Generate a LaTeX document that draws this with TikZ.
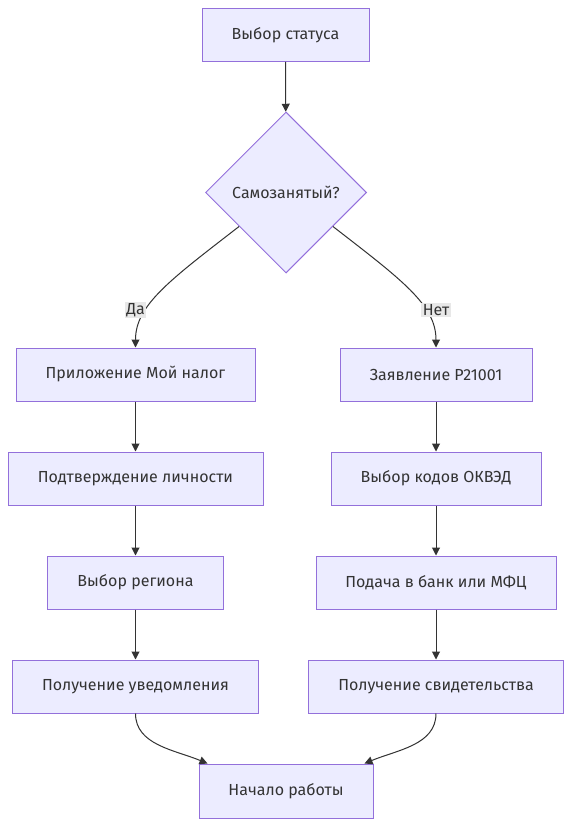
\documentclass[tikz,border=0pt]{standalone}
\usepackage{fontspec}
\setmainfont{Fira Sans}
\usetikzlibrary{shapes.geometric,arrows.meta,calc}
\definecolor{nodefill}{HTML}{ECECFF}
\definecolor{nodeline}{HTML}{9370DB}
\definecolor{edgecol}{HTML}{333333}
\definecolor{lblbg}{HTML}{E8E8E8}
\begin{document}
\begin{tikzpicture}[x=1pt,y=-1pt,
  box/.style={draw=nodeline, fill=nodefill, line width=1pt, minimum height=53pt, inner sep=0pt, text=edgecol, font=\fontsize{16}{19}\selectfont},
  dia/.style={diamond, aspect=1, draw=nodeline, fill=nodefill, line width=1pt, minimum width=161pt, minimum height=161pt, inner sep=0pt, text=edgecol, font=\fontsize{16}{19}\selectfont},
  arr/.style={draw=edgecol, line width=1pt, -{Triangle[length=8pt,width=8pt]}},
  lbl/.style={fill=lblbg, inner sep=1.5pt, text=edgecol, font=\fontsize{16}{19}\selectfont}]
\useasboundingbox (0,0) rectangle (572,826);
\fill[white] (0,0) rectangle (572,826);
\node[box, minimum width=167pt] (s) at (285.5,35) {Выбор статуса};
\node[dia] (d) at (286,192.5) {Самозанятый?};
\node[box, minimum width=239pt] (a1) at (135.5,374.5) {Приложение Мой налог};
\node[box, minimum width=255pt] (a2) at (135.5,478.5) {Подтверждение личности};
\node[box, minimum width=176pt] (a3) at (135.5,582.5) {Выбор региона};
\node[box, minimum width=246pt] (a4) at (135.5,686.5) {Получение уведомления};
\node[box, minimum width=192pt] (b1) at (436,374.5) {Заявление Р21001};
\node[box, minimum width=210pt] (b2) at (436,478.5) {Выбор кодов ОКВЭД};
\node[box, minimum width=240pt] (b3) at (436,582.5) {Подача в банк или МФЦ};
\node[box, minimum width=255pt] (b4) at (436,686.5) {Получение свидетельства};
\node[box, minimum width=174pt, minimum height=54pt] (e) at (286,791) {Начало работы};

\draw[arr] (s) -- (d);
\draw[arr] ($(d.west)!0.42!(d.south)$) .. controls (170,280) and (135.5,305) .. (a1.north);
\draw[arr] ($(d.east)!0.42!(d.south)$) .. controls (402,280) and (436,305) .. (b1.north);
\node[lbl] (l1) at (135.5,310) {Да};
\node[lbl] (l2) at (436,310) {Нет};
\draw[arr] (a1) -- (a2);
\draw[arr] (a2) -- (a3);
\draw[arr] (a3) -- (a4);
\draw[arr] (b1) -- (b2);
\draw[arr] (b2) -- (b3);
\draw[arr] (b3) -- (b4);
\draw[arr] (a4.south) .. controls (135.5,745) and (175,750) .. ([xshift=9pt]e.north west);
\draw[arr] (b4.south) .. controls (436,745) and (397,750) .. ([xshift=-9pt]e.north east);
\end{tikzpicture}
\end{document}
